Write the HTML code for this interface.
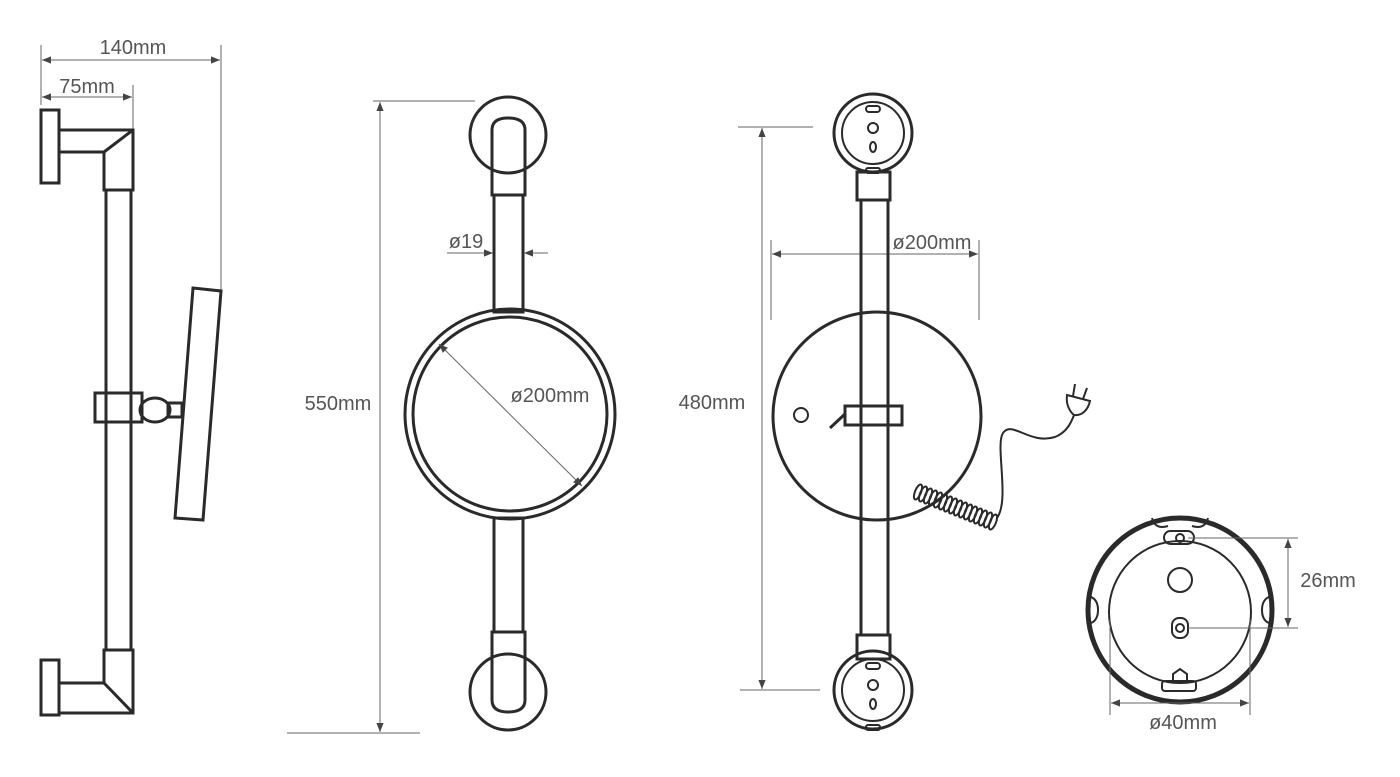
<!DOCTYPE html>
<html><head><meta charset="utf-8"><style>
body{margin:0;background:#fff}
svg{display:block}
text{font-family:"Liberation Sans",sans-serif;font-size:20px;fill:#555}
.o{fill:none;stroke:#2a2a2a;stroke-width:3}
.t{fill:none;stroke:#2a2a2a;stroke-width:2}
.d{fill:none;stroke:#666;stroke-width:1}
</style></head><body>
<svg width="1400" height="777" viewBox="0 0 1400 777">
<defs>
<marker id="a" viewBox="0 0 10 10" refX="10" refY="5" markerWidth="9" markerHeight="9" orient="auto-start-reverse"><path d="M0,1 L10,5 L0,9z" fill="#444"/></marker>
</defs>
<!-- LEFT SIDE VIEW -->
<line class="d" x1="41" y1="45" x2="41" y2="105"/>
<line class="d" x1="221" y1="45" x2="221" y2="290"/>
<line class="d" x1="133" y1="85" x2="133" y2="130"/>
<line class="d" x1="42" y1="60" x2="220" y2="60" marker-start="url(#a)" marker-end="url(#a)"/>
<line class="d" x1="42" y1="97" x2="132" y2="97" marker-start="url(#a)" marker-end="url(#a)"/>
<text x="133" y="54" text-anchor="middle">140mm</text>
<text x="87" y="93" text-anchor="middle">75mm</text>
<rect class="o" x="41" y="110" width="18" height="73"/>
<path class="o" d="M59,130 H133 V190 H104 V152 H59"/>
<line class="o" x1="104" y1="152" x2="133" y2="130"/>
<rect class="o" x="106" y="190" width="25" height="460"/>
<rect class="o" x="41" y="660" width="18" height="55"/>
<path class="o" d="M59,683 H104 V650 H133 V713 H59"/>
<line class="o" x1="104" y1="683" x2="133" y2="713"/>
<rect class="o" x="95" y="393" width="47" height="29" fill="#fff"/>
<rect class="o" x="168" y="403" width="14" height="14" fill="#fff"/>
<ellipse class="o" cx="155" cy="410" rx="15" ry="12" fill="#fff"/>
<polygon class="o" points="193,288 221,291 203,520 175,518" fill="#fff"/>
<!-- MIDDLE FRONT VIEW -->
<line class="d" x1="373" y1="101" x2="475" y2="101"/>
<line class="d" x1="287" y1="733" x2="420" y2="733"/>
<line class="d" x1="380" y1="102" x2="380" y2="732" marker-start="url(#a)" marker-end="url(#a)"/>
<text x="338" y="410" text-anchor="middle">550mm</text>
<circle class="o" cx="508" cy="135" r="38"/>
<path class="o" d="M492,195 V130 Q492,118 508,118 Q525,118 525,130 V195 Z" fill="#fff"/>
<rect class="o" x="494" y="195" width="29" height="117" fill="#fff"/>
<circle class="o" cx="508" cy="692" r="38"/>
<path class="o" d="M492,632 V700 Q492,712 508,712 Q525,712 525,700 V632 Z" fill="#fff"/>
<rect class="o" x="494" y="518" width="29" height="114" fill="#fff"/>
<circle class="o" cx="510" cy="414" r="105" fill="#fff"/>
<circle class="o" cx="510" cy="414" r="97"/>
<line class="d" x1="447" y1="253" x2="493" y2="253" marker-end="url(#a)"/>
<line class="d" x1="548" y1="253" x2="524" y2="253" marker-end="url(#a)"/>
<text x="466" y="248" text-anchor="middle">ø19</text>
<line class="d" x1="439" y1="344" x2="582" y2="486" marker-start="url(#a)" marker-end="url(#a)"/>
<text x="550" y="402" text-anchor="middle">ø200mm</text>
<!-- RIGHT BACK VIEW -->
<line class="d" x1="738" y1="127" x2="813" y2="127"/>
<line class="d" x1="740" y1="690" x2="820" y2="690"/>
<line class="d" x1="762" y1="128" x2="762" y2="689" marker-start="url(#a)" marker-end="url(#a)"/>
<text x="712" y="409" text-anchor="middle">480mm</text>
<line class="d" x1="771" y1="240" x2="771" y2="320"/>
<line class="d" x1="979" y1="240" x2="979" y2="320"/>
<line class="d" x1="772" y1="254" x2="978" y2="254" marker-start="url(#a)" marker-end="url(#a)"/>
<text x="932" y="249" text-anchor="middle">ø200mm</text>
<circle class="o" cx="877" cy="416" r="104"/>
<circle class="t" cx="801" cy="415" r="7"/>
<rect class="o" x="845" y="406" width="57" height="19"/>
<path class="o" d="M830,428 L845,414"/>
<rect class="o" x="861" y="200" width="27" height="435" fill="#fff"/>
<g id="ros">
<circle class="o" cx="873" cy="133" r="39" fill="#fff"/>
<circle class="t" cx="873" cy="133" r="31"/>
<rect class="t" x="866" y="106" width="14" height="6" rx="3"/>
<circle class="t" cx="873" cy="128" r="5"/>
<ellipse class="t" cx="873" cy="147" rx="3" ry="5"/>
<rect class="t" x="866" y="168" width="14" height="5" rx="2"/>
</g>
<rect class="o" x="857" y="172" width="33" height="28" fill="#fff"/>
<use href="#ros" transform="translate(0,557)"/>
<rect class="o" x="857" y="635" width="33" height="24" fill="#fff"/>
<!-- cord -->
<g class="t">
<ellipse cx="918" cy="492" rx="3" ry="8" transform="rotate(22 918 492)"/>
<ellipse cx="923" cy="494" rx="3" ry="8" transform="rotate(22 923 494)"/>
<ellipse cx="928" cy="496" rx="3" ry="8" transform="rotate(22 928 496)"/>
<ellipse cx="933" cy="498" rx="3" ry="8" transform="rotate(22 933 498)"/>
<ellipse cx="938" cy="500" rx="3" ry="8" transform="rotate(22 938 500)"/>
<ellipse cx="943" cy="502" rx="3" ry="8" transform="rotate(22 943 502)"/>
<ellipse cx="948" cy="504" rx="3" ry="8" transform="rotate(22 948 504)"/>
<ellipse cx="953" cy="506" rx="3" ry="8" transform="rotate(22 953 506)"/>
<ellipse cx="958" cy="508" rx="3" ry="8" transform="rotate(22 958 508)"/>
<ellipse cx="963" cy="510" rx="3" ry="8" transform="rotate(22 963 510)"/>
<ellipse cx="968" cy="512" rx="3" ry="8" transform="rotate(22 968 512)"/>
<ellipse cx="973" cy="514" rx="3" ry="8" transform="rotate(22 973 514)"/>
<ellipse cx="978" cy="516" rx="3" ry="8" transform="rotate(22 978 516)"/>
<ellipse cx="983" cy="518" rx="3" ry="8" transform="rotate(22 983 518)"/>
<ellipse cx="988" cy="520" rx="3" ry="8" transform="rotate(22 988 520)"/>
<ellipse cx="993" cy="522" rx="3" ry="8" transform="rotate(22 993 522)"/>
<path d="M997,518 C1010,500 995,445 1003,433 C1012,420 1030,445 1055,437 C1068,432 1072,420 1074,415"/>
<path d="M1067,395 L1090,401 C1088,410 1082,416 1074,415 C1068,410 1066,402 1067,395 Z"/>
<line x1="1073" y1="396" x2="1075" y2="384"/>
<line x1="1083" y1="399" x2="1087" y2="388"/>
</g>
<!-- BOTTOM RIGHT DETAIL -->
<circle cx="1180" cy="610" r="92" fill="none" stroke="#2a2a2a" stroke-width="5"/>
<circle class="t" cx="1180" cy="612" r="71"/>
<path class="t" d="M1152,518 Q1155,530 1168,526 M1192,526 Q1205,530 1208,518"/>
<path class="t" d="M1088,596 Q1098,598 1098,610 Q1098,622 1088,624"/>
<path class="t" d="M1272,596 Q1262,598 1262,610 Q1262,622 1272,624"/>
<rect class="t" x="1164" y="531" width="30" height="13" rx="6.5"/>
<circle class="t" cx="1180" cy="538" r="4"/>
<circle class="t" cx="1180" cy="580" r="12"/>
<rect class="t" x="1172" y="618" width="16" height="20" rx="7"/>
<circle class="t" cx="1180" cy="628" r="4"/>
<rect class="t" x="1162" y="681" width="34" height="10" rx="3"/>
<path class="t" d="M1173,681 V674 L1180,669 L1187,674 V681"/>
<line class="d" x1="1188" y1="538" x2="1298" y2="538"/>
<line class="d" x1="1188" y1="628" x2="1298" y2="628"/>
<line class="d" x1="1288" y1="539" x2="1288" y2="627" marker-start="url(#a)" marker-end="url(#a)"/>
<text x="1328" y="587" text-anchor="middle">26mm</text>
<line class="d" x1="1110" y1="620" x2="1110" y2="715"/>
<line class="d" x1="1250" y1="620" x2="1250" y2="715"/>
<line class="d" x1="1111" y1="703" x2="1249" y2="703" marker-start="url(#a)" marker-end="url(#a)"/>
<text x="1183" y="729" text-anchor="middle">ø40mm</text>
</svg>
</body></html>
